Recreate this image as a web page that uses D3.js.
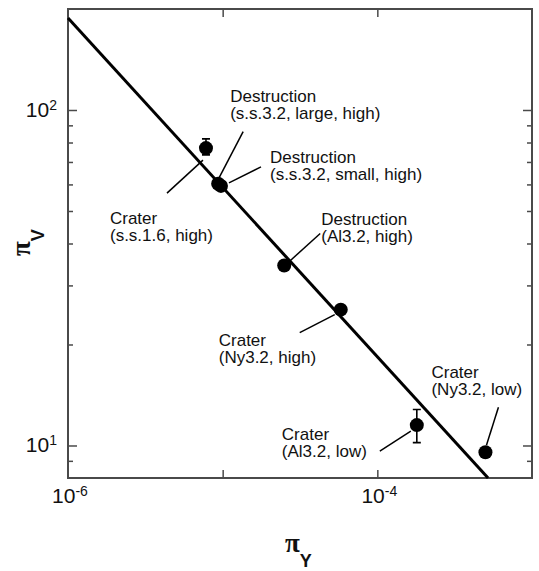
<!DOCTYPE html>
<html>
<head>
<meta charset="utf-8">
<script src="https://cdn.jsdelivr.net/npm/d3@7"></script>
<style>
  body { margin: 0; background: #fff; }
  svg { display: block; font-family: "Liberation Sans", Arial, Helvetica, sans-serif; }
</style>
</head>
<body>
<div id="chart"></div>
<script>
// values
const kinds   = ["Crater", "Destruction", "Destruction", "Destruction", "Crater", "Crater", "Crater"];
const cases   = ["(s.s.1.6, high)", "(s.s.3.2, large, high)", "(s.s.3.2, small, high)", "(Al3.2, high)",
                 "(Ny3.2, high)", "(Al3.2, low)", "(Ny3.2, low)"];
const piY     = [7.8e-6, 9.35e-6, 9.75e-6, 2.5e-5, 5.8e-5, 1.8e-4, 5.0e-4];
const piV     = [77, 60.3, 59.4, 34.4, 25.4, 11.5, 9.55];
const errLow  = [73.5, null, null, null, null, 10.2, null];
const errHigh = [82, null, null, null, null, 12.8, null];

// fitted power law, end points
const fitPiY = [1e-6, 5.2e-4];
const fitPiV = [188, 8];

const xTicks  = [1e-5, 1e-4];
const xLabels = [1e-6, 1e-4];
const yMajor  = [10, 100];
const yMinor  = [9, 20, 30, 40, 50, 60, 70, 80, 90];

// label placement relative to each point (px): text, leader start, leader end
const labelOff  = [[-96, 76], [12, -82], [49, -23], [37, -40], [-122, 36], [-135, 15], [-54, -74]];
const leaderOff = [[[-39, 45], [-3, 12]], [[25, -52], [1, -6]], [[40, -19], [8, -3]],
                   [[36, -32], [4, -3]], [[-41, 23], [-6, 5]], [[-37, 26], [-6, 6]], [[13, -45], [1, -7]]];

const W = 539, H = 571;
const margin = {top: 9, right: 7, bottom: 93, left: 68};
const w = W - margin.left - margin.right,
      h = H - margin.top - margin.bottom;

const svg = d3.select("#chart").append("svg")
  .attr("width", W)
  .attr("height", H);

const g = svg.append("g")
  .attr("transform", `translate(${margin.left},${margin.top})`);

const x = d3.scaleLog().domain([1e-6, 1e-3]).range([0, w]);
const y = d3.scaleLog().domain([8, 200]).range([h, 0]);

const axisColor = "#4a4a4a";

// inward ticks on all four sides
function ticks(axis, vals, size, tr) {
  const a = g.append("g")
    .attr("transform", tr)
    .call(axis.tickValues(vals).tickSize(-size).tickFormat(""));
  a.select(".domain").remove();
  a.selectAll("line").attr("stroke", axisColor).attr("stroke-width", 1.5);
}
ticks(d3.axisBottom(x), xTicks, 8, `translate(0,${h})`);
ticks(d3.axisTop(x), xTicks, 8, "translate(0,0)");
ticks(d3.axisLeft(y), yMajor, 9, "translate(0,0)");
ticks(d3.axisLeft(y), yMinor, 5, "translate(0,0)");
ticks(d3.axisRight(y), yMajor, 9, `translate(${w},0)`);
ticks(d3.axisRight(y), yMinor, 5, `translate(${w},0)`);

g.append("rect")
  .attr("width", w)
  .attr("height", h)
  .attr("fill", "none")
  .attr("stroke", axisColor)
  .attr("stroke-width", 2);

// tick labels as 10 with superscript exponent
function pow10(sel) {
  sel.append("tspan").text("10");
  sel.append("tspan")
    .attr("font-size", 14)
    .attr("dy", -7)
    .text(d => String(Math.round(Math.log10(d))));
}
g.selectAll(".ylab").data(yMajor).join("text")
  .attr("x", -11)
  .attr("y", d => y(d) + 7)
  .attr("text-anchor", "end")
  .attr("font-size", 21)
  .attr("fill", "#111")
  .call(pow10);

g.selectAll(".xlab").data(xLabels).join("text")
  .attr("x", d => x(d) + 2)
  .attr("y", h + 25)
  .attr("text-anchor", "middle")
  .attr("font-size", 21)
  .attr("fill", "#111")
  .call(pow10);

// fitted line
const fit = fitPiY.map((d, i) => [d, fitPiV[i]]);
g.append("path")
  .datum(fit)
  .attr("d", d3.line().x(d => x(d[0])).y(d => y(d[1])))
  .attr("stroke", "#000")
  .attr("stroke-width", 3)
  .attr("fill", "none");

const pts = piY.map((d, i) => ({
  px: x(d), py: y(piV[i]), lo: errLow[i], hi: errHigh[i],
  kind: kinds[i], cs: cases[i], lab: labelOff[i], lead: leaderOff[i]
}));

// error bars
const eb = pts.filter(d => d.lo != null);
g.selectAll(".eb").data(eb).join("path")
  .attr("d", d => `M${d.px},${y(d.lo)}V${y(d.hi)}M${d.px - 4},${y(d.lo)}h8M${d.px - 4},${y(d.hi)}h8`)
  .attr("stroke", "#000")
  .attr("stroke-width", 1.6)
  .attr("fill", "none");

// points
g.selectAll(".pt").data(pts).join("circle")
  .attr("cx", d => d.px)
  .attr("cy", d => d.py)
  .attr("r", 7)
  .attr("fill", "#000");

// leader lines
g.selectAll(".lead").data(pts).join("line")
  .attr("x1", d => d.px + d.lead[0][0])
  .attr("y1", d => d.py + d.lead[0][1])
  .attr("x2", d => d.px + d.lead[1][0])
  .attr("y2", d => d.py + d.lead[1][1])
  .attr("stroke", "#000")
  .attr("stroke-width", 1.5);

// annotations, two lines each
const ann = g.selectAll(".ann").data(pts).join("text")
  .attr("font-size", 17)
  .attr("fill", "#111")
  .attr("transform", d => `translate(${d.px + d.lab[0]},${d.py + d.lab[1]})`);
ann.append("tspan").attr("x", 0).text(d => d.kind);
ann.append("tspan").attr("x", 0).attr("dy", 17).text(d => d.cs);

// axis titles
const yt = svg.append("text")
  .attr("transform", "translate(30,256) rotate(-90)")
  .attr("fill", "#111");
yt.append("tspan").attr("font-family", "Liberation Serif, Times New Roman, serif")
  .attr("font-weight", "bold").attr("font-size", 27).text("π");
yt.append("tspan").attr("font-weight", "bold").attr("font-size", 18).attr("dy", 14).text("V");

const xt = svg.append("text")
  .attr("transform", "translate(285,552)")
  .attr("fill", "#111");
xt.append("tspan").attr("font-family", "Liberation Serif, Times New Roman, serif")
  .attr("font-weight", "bold").attr("font-size", 27).text("π");
xt.append("tspan").attr("font-weight", "bold").attr("font-size", 18).attr("dy", 15).text("Y");
</script>
</body>
</html>
